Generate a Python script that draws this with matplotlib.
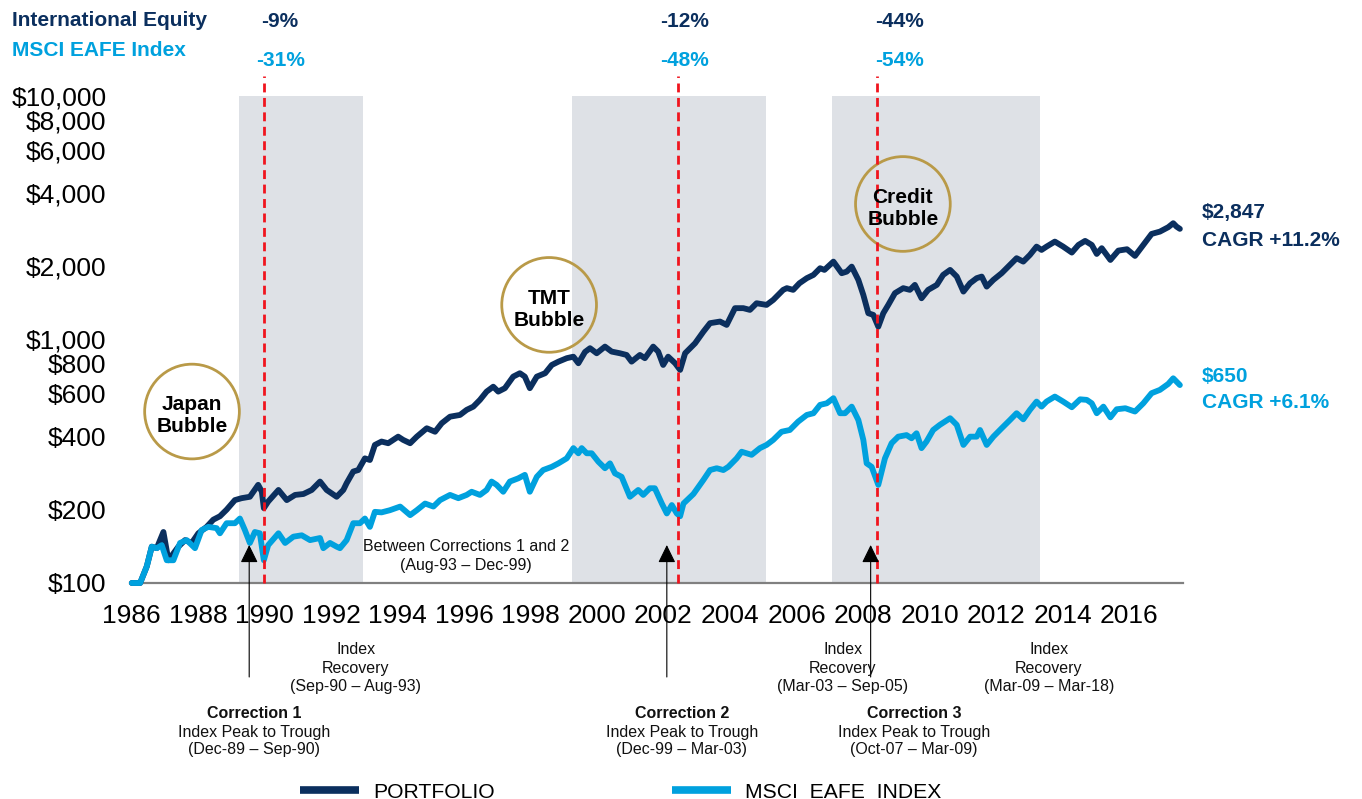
import matplotlib
matplotlib.use("Agg")
import matplotlib.pyplot as plt
from matplotlib.ticker import FixedLocator, NullLocator

plt.rcParams["font.family"] = ["Liberation Sans", "DejaVu Sans"]

NAVY = "#0B2F5E"
BLUE = "#00A1DE"
SHADE = "#DEE1E6"
RED = "#F0141E"
GOLD = "#B99A48"

# growth of $100
portfolio_years = [
    1986.01, 1986.26, 1986.46, 1986.61, 1986.76, 1986.96, 1987.11, 1987.41, 1987.61, 1987.81,
    1988.01, 1988.26, 1988.46, 1988.66, 1988.86, 1989.11, 1989.31, 1989.56, 1989.81, 1989.92,
    1989.98, 1990.11, 1990.42, 1990.67, 1990.92, 1991.17, 1991.42, 1991.67, 1991.87, 1992.17,
    1992.37, 1992.47, 1992.67, 1992.82, 1993.02, 1993.17, 1993.32, 1993.52, 1993.72, 1994.02,
    1994.17, 1994.38, 1994.58, 1994.88, 1995.13, 1995.33, 1995.58, 1995.88, 1996.08, 1996.28,
    1996.48, 1996.68, 1996.88, 1997.03, 1997.23, 1997.48, 1997.68, 1997.83, 1997.98, 1998.19,
    1998.44, 1998.64, 1998.84, 1999.09, 1999.29, 1999.44, 1999.64, 1999.79, 1999.99, 2000.24,
    2000.44, 2000.69, 2000.89, 2001.04, 2001.29, 2001.44, 2001.69, 2001.84, 2001.99, 2002.14,
    2002.35, 2002.50, 2002.65, 2002.95, 2003.20, 2003.40, 2003.70, 2003.90, 2004.15, 2004.40,
    2004.60, 2004.80, 2005.10, 2005.30, 2005.60, 2005.71, 2005.90, 2006.09, 2006.31, 2006.51,
    2006.71, 2006.84, 2007.11, 2007.36, 2007.51, 2007.66, 2007.86, 2008.01, 2008.16, 2008.31,
    2008.46, 2008.61, 2008.76, 2008.96, 2009.21, 2009.41, 2009.56, 2009.76, 2009.96, 2010.22,
    2010.41, 2010.62, 2010.82, 2011.02, 2011.22, 2011.42, 2011.57, 2011.72, 2011.92, 2012.17,
    2012.42, 2012.62, 2012.82, 2013.02, 2013.22, 2013.37, 2013.52, 2013.77, 2014.02, 2014.28,
    2014.48, 2014.68, 2014.88, 2015.03, 2015.18, 2015.44, 2015.68, 2015.94, 2016.18, 2016.43,
    2016.68, 2016.93, 2017.18, 2017.33, 2017.43, 2017.53,
]
portfolio_values = [
    100, 100, 117, 141, 139, 162, 124, 141, 150, 146,
    160, 170, 182, 188, 200, 219, 223, 226, 253, 237,
    203, 216, 241, 219, 230, 232, 241, 261, 241, 226,
    241, 257, 287, 291, 325, 320, 369, 381, 375, 399,
    387, 375, 399, 432, 418, 453, 482, 490, 514, 530,
    565, 611, 640, 611, 631, 704, 727, 704, 631, 704,
    727, 786, 811, 838, 850, 799, 889, 921, 878, 935,
    892, 878, 864, 811, 864, 838, 935, 892, 786, 850,
    799, 750, 878, 965, 1077, 1167, 1185, 1148, 1345, 1345,
    1323, 1409, 1387, 1454, 1599, 1625, 1599, 1703, 1786, 1842,
    1962, 1931, 2089, 1872, 1900, 1992, 1757, 1524, 1282, 1262,
    1129, 1282, 1387, 1550, 1625, 1599, 1676, 1477, 1599, 1676,
    1842, 1931, 1813, 1573, 1703, 1786, 1813, 1649, 1757, 1872,
    2025, 2157, 2089, 2225, 2407, 2333, 2407, 2524, 2407, 2275,
    2446, 2541, 2446, 2246, 2371, 2122, 2318, 2348, 2204, 2446,
    2714, 2774, 2892, 3003, 2908, 2847,
]

index_years = [
    1986.01, 1986.26, 1986.46, 1986.61, 1986.76, 1986.91, 1987.06, 1987.26, 1987.46, 1987.66,
    1987.91, 1988.11, 1988.31, 1988.56, 1988.66, 1988.86, 1989.11, 1989.26, 1989.41, 1989.56,
    1989.71, 1989.86, 1989.98, 1990.11, 1990.42, 1990.62, 1990.87, 1991.12, 1991.37, 1991.67,
    1991.77, 1991.97, 1992.17, 1992.27, 1992.47, 1992.67, 1992.87, 1993.02, 1993.17, 1993.32,
    1993.52, 1993.77, 1994.08, 1994.38, 1994.58, 1994.83, 1995.08, 1995.28, 1995.58, 1995.83,
    1996.08, 1996.23, 1996.48, 1996.68, 1996.83, 1996.98, 1997.18, 1997.38, 1997.63, 1997.83,
    1997.98, 1998.19, 1998.38, 1998.64, 1998.84, 1999.09, 1999.29, 1999.44, 1999.54, 1999.69,
    1999.84, 2000.04, 2000.24, 2000.39, 2000.54, 2000.74, 2000.99, 2001.24, 2001.39, 2001.59,
    2001.74, 2001.95, 2002.10, 2002.25, 2002.40, 2002.50, 2002.60, 2002.90, 2003.20, 2003.40,
    2003.60, 2003.80, 2003.95, 2004.20, 2004.35, 2004.65, 2004.90, 2005.10, 2005.30, 2005.55,
    2005.80, 2006.05, 2006.31, 2006.51, 2006.71, 2006.91, 2007.11, 2007.31, 2007.46, 2007.66,
    2007.86, 2008.01, 2008.11, 2008.26, 2008.46, 2008.66, 2008.86, 2009.06, 2009.31, 2009.46,
    2009.61, 2009.76, 2009.91, 2010.11, 2010.31, 2010.62, 2010.82, 2011.02, 2011.22, 2011.42,
    2011.52, 2011.72, 2011.92, 2012.17, 2012.42, 2012.62, 2012.82, 2013.02, 2013.22, 2013.37,
    2013.52, 2013.77, 2014.02, 2014.28, 2014.53, 2014.73, 2014.88, 2015.03, 2015.23, 2015.44,
    2015.63, 2015.89, 2016.18, 2016.43, 2016.68, 2016.93, 2017.18, 2017.33, 2017.43, 2017.53,
]
index_values = [
    100, 100, 117, 141, 139, 143, 124, 124, 146, 150,
    139, 165, 170, 168, 160, 176, 176, 184, 165, 146,
    162, 160, 124, 143, 160, 146, 155, 157, 150, 153,
    139, 146, 141, 139, 150, 176, 176, 184, 170, 196,
    195, 199, 206, 190, 199, 212, 206, 219, 230, 223,
    230, 237, 230, 241, 261, 253, 237, 261, 269, 278,
    237, 273, 291, 300, 310, 325, 358, 341, 358, 341,
    341, 315, 296, 310, 282, 273, 226, 241, 230, 245,
    245, 212, 193, 209, 193, 188, 212, 232, 265, 291,
    296, 291, 300, 325, 346, 336, 358, 369, 387, 418,
    425, 460, 490, 498, 539, 547, 574, 498, 498, 530,
    467, 387, 310, 300, 253, 325, 375, 399, 405, 393,
    412, 358, 381, 425, 446, 475, 446, 369, 399, 399,
    425, 369, 399, 432, 467, 498, 470, 514, 556, 530,
    556, 583, 556, 527, 568, 565, 547, 498, 530, 479,
    517, 522, 506, 547, 602, 621, 657, 693, 671, 650,
]

# shaded periods (peak to recovery) and trough markers
shade_periods = [(1989.23, 1992.96), (1999.25, 2005.08), (2007.07, 2013.32)]
trough_years = [1989.98, 2002.44, 2008.43]
arrow_years = [1989.54, 2002.10, 2008.23]
portfolio_drawdowns = ["-9%", "-12%", "-44%"]
index_drawdowns = ["-31%", "-48%", "-54%"]
drawdown_label_years = [1990.47, 2002.62, 2009.09]

bubble_labels = ["Japan\nBubble", "TMT\nBubble", "Credit\nBubble"]
bubble_years = [1987.82, 1998.56, 2009.20]
bubble_values = [506, 1387, 3602]

y_ticks = [100, 200, 400, 600, 800, 1000, 2000, 4000, 6000, 8000, 10000]
y_tick_labels = ["$100", "$200", "$400", "$600", "$800", "$1,000", "$2,000", "$4,000", "$6,000", "$8,000", "$10,000"]
x_ticks = list(range(1986, 2017, 2))

W, H = 1362, 799


def fx(x):
    return x / W


def fy(y):
    return 1 - y / H


fig = plt.figure(figsize=(W / 100, H / 100), dpi=100)
ax = fig.add_axes([fx(130), fy(583), fx(1183) - fx(130), fy(96) - fy(583)])

for start, end in shade_periods:
    ax.axvspan(start, end, color=SHADE, lw=0, zorder=0)

ax.plot(portfolio_years, portfolio_values, color=NAVY, lw=4.2, solid_joinstyle="round",
        solid_capstyle="round", zorder=3, clip_on=False, label="PORTFOLIO")
ax.plot(index_years, index_values, color=BLUE, lw=4.2, solid_joinstyle="round",
        solid_capstyle="round", zorder=4, clip_on=False, label="MSCI  EAFE  INDEX")

for x in trough_years:
    ax.axvline(x, ymin=0, ymax=1.041, color=RED, lw=2.0, dashes=(3.2, 2.0), clip_on=False, zorder=5)

xt = ax.get_xaxis_transform()
for x in arrow_years:
    ax.annotate("", xy=(x, 0.078), xycoords=xt, xytext=(x, -0.193), textcoords=xt,
                arrowprops=dict(arrowstyle="-|>,head_length=0.55,head_width=0.27", mutation_scale=20,
                                color="black", lw=0.8, shrinkA=0, shrinkB=0),
                annotation_clip=False, zorder=6)

for x, p, i in zip(drawdown_label_years, portfolio_drawdowns, index_drawdowns):
    ax.text(x, 1.154, p, transform=xt, ha="center", va="center", fontsize=15, fontweight="bold", color=NAVY)
    ax.text(x, 1.072, i, transform=xt, ha="center", va="center", fontsize=15, fontweight="bold", color=BLUE)

ax.scatter(bubble_years, bubble_values, s=4650, facecolors="none", edgecolors=GOLD, linewidths=2.0, zorder=2,
           clip_on=False)
for label, x, y in zip(bubble_labels, bubble_years, bubble_values):
    ax.annotate(label, xy=(x, y), xytext=(0, -3), textcoords="offset points", ha="center", va="center",
                fontsize=15, fontweight="bold", color="black", zorder=7)

ax.set_yscale("log")
ax.set_ylim(100, 10000)
ax.set_xlim(1985.955, 2017.624)
ax.yaxis.set_major_locator(FixedLocator(y_ticks))
ax.yaxis.set_minor_locator(NullLocator())
ax.set_yticklabels(y_tick_labels)
ax.set_xticks(x_ticks)
ax.set_xticklabels([str(y) for y in x_ticks])
ax.tick_params(axis="both", length=0, labelsize=19, colors="black")
ax.tick_params(axis="x", pad=15)
ax.tick_params(axis="y", pad=17)
for side in ["top", "right", "left"]:
    ax.spines[side].set_visible(False)
ax.spines["bottom"].set_color("#808080")
ax.spines["bottom"].set_linewidth(1.6)
ax.spines["bottom"].set_zorder(1)

# headers
fig.text(fx(12), fy(20), "International Equity", fontsize=15, fontweight="bold", color=NAVY, va="center")
fig.text(fx(12), fy(51), "MSCI EAFE Index", fontsize=15, fontweight="bold", color=BLUE, va="center")

# end values
fig.text(fx(1202), fy(212), "$2,847", fontsize=15, fontweight="bold", color=NAVY, va="center")
fig.text(fx(1202), fy(240), "CAGR +11.2%", fontsize=15, fontweight="bold", color=NAVY, va="center")
fig.text(fx(1202), fy(376), "$650", fontsize=15, fontweight="bold", color=BLUE, va="center")
fig.text(fx(1202), fy(402), "CAGR +6.1%", fontsize=15, fontweight="bold", color=BLUE, va="center")

# period notes
note = dict(fontsize=11.5, ha="center", va="center", color="#111111", linespacing=1.32)
fig.text(fx(466), fy(556), "Between Corrections 1 and 2\n(Aug-93 \u2013 Dec-99)", **note)
fig.text(fx(356), fy(668), "Index\nRecovery\n(Sep-90 \u2013 Aug-93)", **note)
fig.text(fx(843), fy(668), "Index\nRecovery\n(Mar-03 \u2013 Sep-05)", **note)
fig.text(fx(1049), fy(668), "Index\nRecovery\n(Mar-09 \u2013 Mar-18)", **note)

corrections = [("Correction 1", "(Dec-89 \u2013 Sep-90)", 254),
               ("Correction 2", "(Dec-99 \u2013 Mar-03)", 682),
               ("Correction 3", "(Oct-07 \u2013 Mar-09)", 914)]
note_tight = dict(note, linespacing=1.2)
for title, span, cx in corrections:
    fig.text(fx(cx), fy(713), title, fontsize=11.5, fontweight="bold", ha="center", va="center", color="#111111")
    fig.text(fx(cx), fy(741), "Index Peak to Trough\n" + span, **note_tight)

fig.legend(loc="lower center", bbox_to_anchor=(fx(621), -0.006), ncol=2, frameon=False, fontsize=15.2,
           handlelength=2.8, handletextpad=0.66, columnspacing=8.4, borderpad=0.1, borderaxespad=0.0)
for h in fig.legends[0].legend_handles:
    h.set_linewidth(5.5)
    h.set_solid_capstyle("butt")

fig.savefig("out.png", dpi=100)
